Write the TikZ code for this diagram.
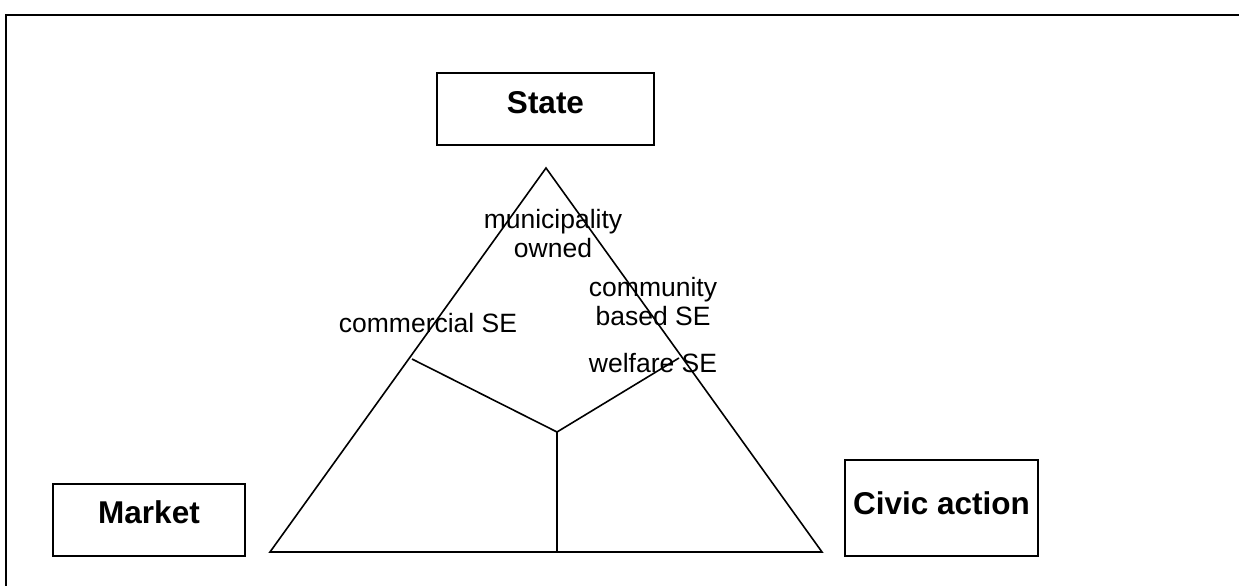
\documentclass[tikz,border=0pt]{standalone}
\usepackage{fontspec}
\setmainfont{Liberation Sans}
\begin{document}
\begin{tikzpicture}[x=1pt,y=-1pt,
  actor/.style={draw,line width=1.8pt,inner xsep=0pt,inner ysep=0pt,font=\fontsize{31.5}{34}\selectfont\bfseries},
  lbl/.style={font=\fontsize{26.5}{29}\selectfont,align=center,inner sep=0pt,anchor=base},
  tri/.style={line width=1.6pt,line join=miter}]
\useasboundingbox (0,0) rectangle (1239,586);
\draw[line width=2.2pt] (6,590) -- (6,15) -- (1245,15);
% actor boxes
\node[actor,minimum width=217pt,text height=41pt,text depth=31pt,anchor=north] (state) at (545.5,72) {State};
\node[actor,minimum width=192pt,text height=40pt,text depth=32pt,anchor=north] (market) at (149,483) {Market};
\node[actor,minimum width=193pt,text height=55pt,text depth=41pt,anchor=north] (civic) at (941.5,459) {Civic action};
% triangle
\coordinate (apex) at (546,168);
\coordinate (bl) at (270,552);
\coordinate (br) at (822,552);
\draw[tri] (apex) -- (bl) -- (br) -- cycle;
\coordinate (junc) at (557,432);
\coordinate (lb) at (412,359);
\coordinate (rb) at (679,358);
\coordinate (bb) at (557,552);
\draw[tri] (lb) -- (junc) -- (rb);
\draw[tri] (junc) -- (bb);
% labels
\node[lbl] (muni) at (553,257) {municipality\\owned};
\node[lbl] (comm) at (428,332) {commercial SE};
\node[lbl] (cbse) at (653,325) {community\\based SE};
\node[lbl] (welf) at (653,372) {welfare SE};
\end{tikzpicture}
\end{document}
